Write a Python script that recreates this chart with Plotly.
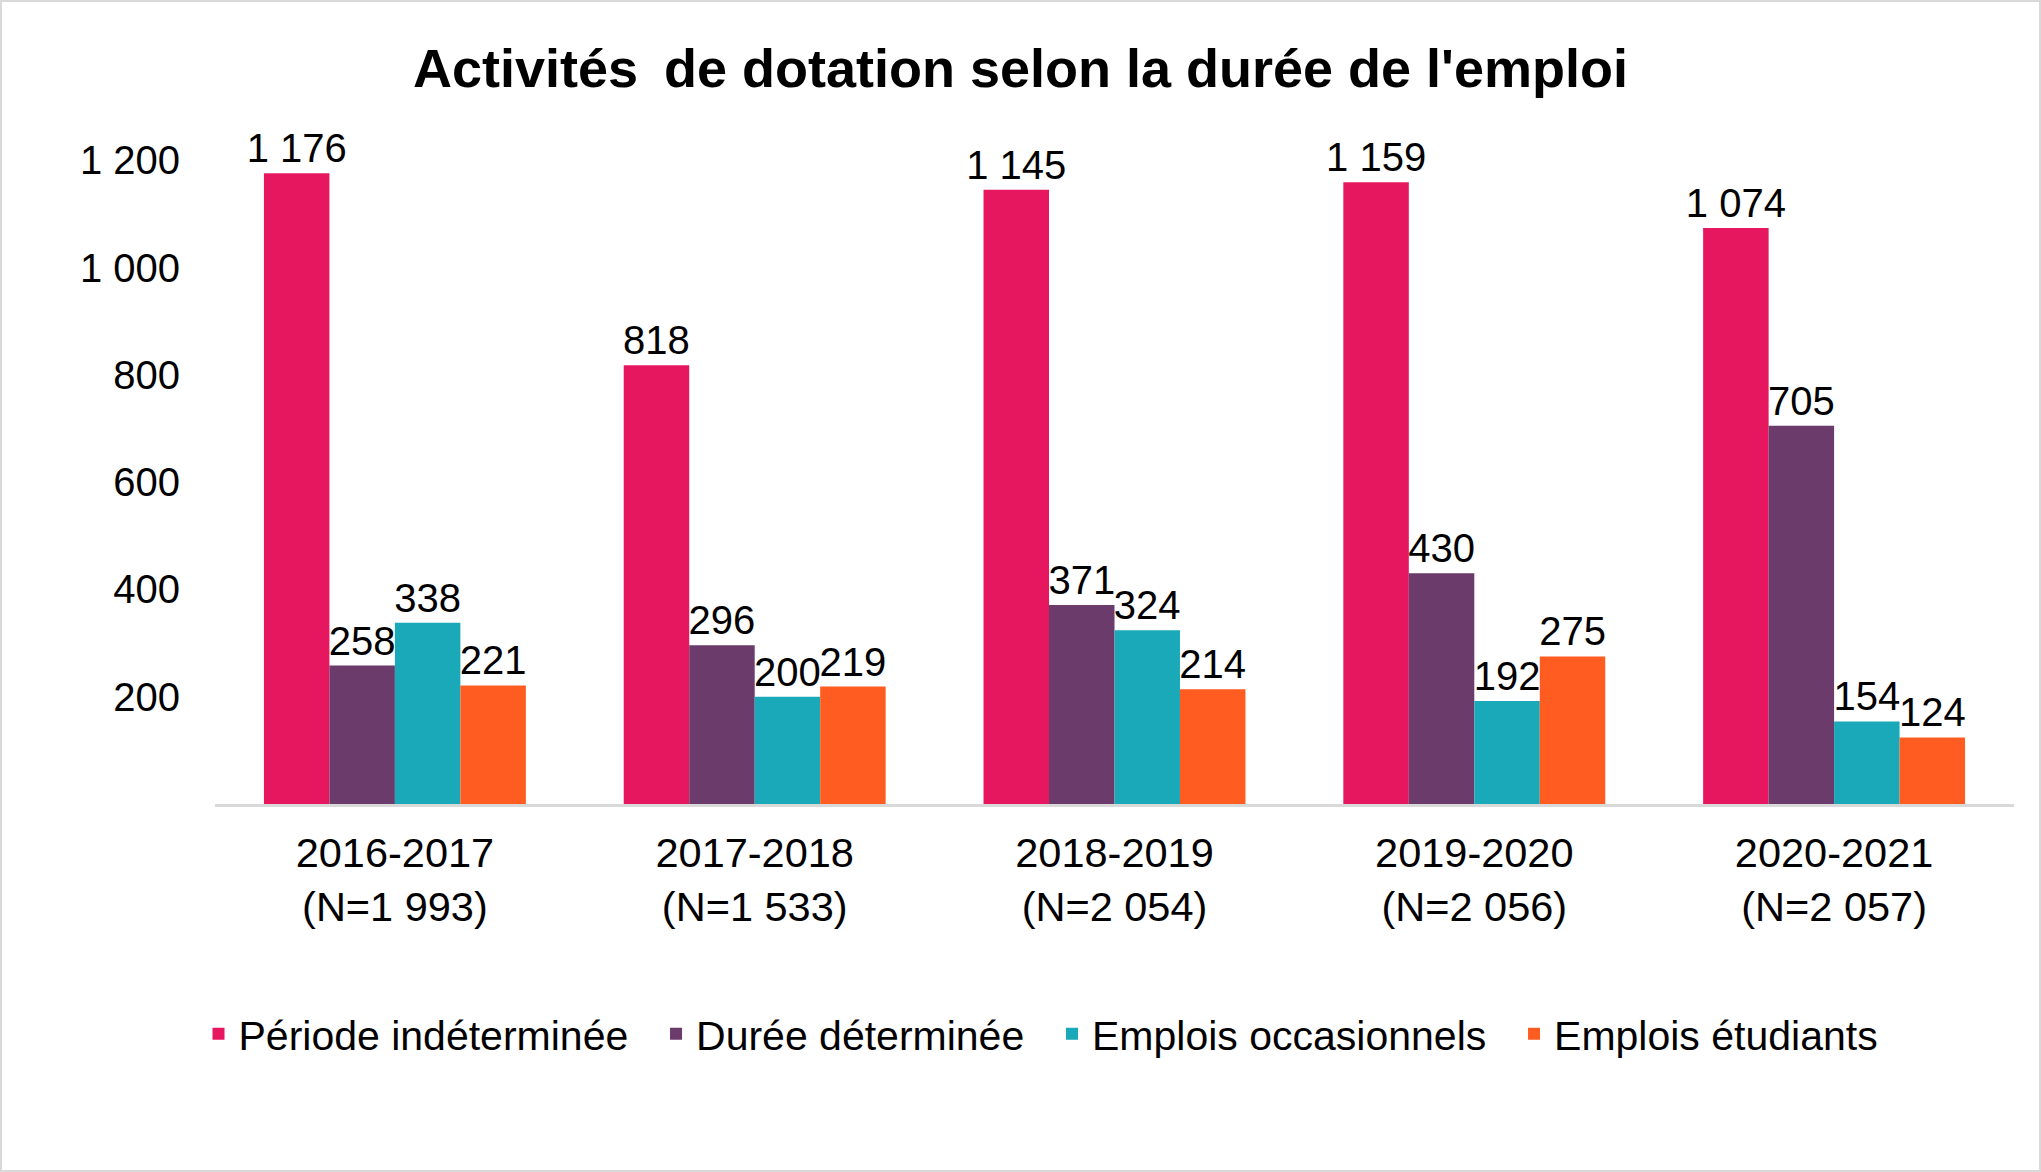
import plotly.graph_objects as go

categories = ["2016-2017<br>(N=1 993)", "2017-2018<br>(N=1 533)", "2018-2019<br>(N=2 054)",
              "2019-2020<br>(N=2 056)", "2020-2021<br>(N=2 057)"]
periode_indeterminee = [1176, 818, 1145, 1159, 1074]
duree_determinee = [258, 296, 371, 430, 705]
emplois_occasionnels = [338, 200, 324, 192, 154]
emplois_etudiants = [221, 219, 214, 275, 124]

series_names = ["Période indéterminée", "Durée déterminée", "Emplois occasionnels", "Emplois étudiants"]
series_values = [periode_indeterminee, duree_determinee, emplois_occasionnels, emplois_etudiants]
series_colors = ["#e6175f", "#6b3b6b", "#1aa9b9", "#ff5c22"]

W, H = 2041, 1172
ML, MR, MT, MB = 215, 27, 97, 368
FONT = "Liberation Sans, Arial, sans-serif"
PAD = "\u00a0\u00a0"

fig = go.Figure()
for name, vals, col in zip(series_names, series_values, series_colors):
    fig.add_trace(go.Bar(
        name=name + PAD, x=categories, y=vals,
        marker=dict(color=col, line=dict(width=0)),
        texttemplate="%{y:,}", textposition="outside",
        textfont=dict(family=FONT, size=40, color="#000000"),
        constraintext="none", cliponaxis=False,
    ))

pw = W - ML - MR
ph = H - MT - MB
fig.add_shape(type="rect", xref="paper", yref="paper",
              x0=-(ML - 1) / pw, x1=1 + (MR - 1) / pw,
              y0=-(MB - 1) / ph, y1=1 + (MT - 1) / ph,
              line=dict(color="#d9d9d9", width=2), fillcolor="rgba(0,0,0,0)", layer="below")

fig.update_layout(
    width=W, height=H, autosize=False,
    margin=dict(l=ML, r=MR, t=MT, b=MB, pad=0),
    paper_bgcolor="white", plot_bgcolor="white",
    separators=", ",
    barmode="group", bargap=0.272, bargroupgap=0,
    font=dict(family=FONT, size=40, color="#000000"),
    title=dict(text="<b>Activités \u2009de dotation selon la durée de l'emploi</b>",
               x=0.5, xref="container", xanchor="center",
               y=1 - 68 / H, yref="container", yanchor="middle",
               font=dict(family=FONT, size=54, color="#000000")),
    xaxis=dict(showline=True, linecolor="#d9d9d9", linewidth=3, showgrid=False,
               ticks="", tickfont=dict(size=41.5), ticklabelstandoff=10),
    yaxis=dict(range=[0, 1318], tickvals=[200, 400, 600, 800, 1000, 1200],
               tickformat=",", showgrid=False, zeroline=False, showline=False,
               ticks="", tickfont=dict(size=40), ticklabelstandoff=34),
    legend=dict(orientation="h", x=(1052 - ML) / pw, xanchor="center",
                y=(H - MB - 1034) / ph, yanchor="middle",
                font=dict(size=41), itemwidth=30, traceorder="normal"),
    showlegend=True,
)

fig.write_html("out.html", config={"displayModeBar": False},
               post_script="document.body.style.margin='0px';document.body.style.overflow='hidden';")
